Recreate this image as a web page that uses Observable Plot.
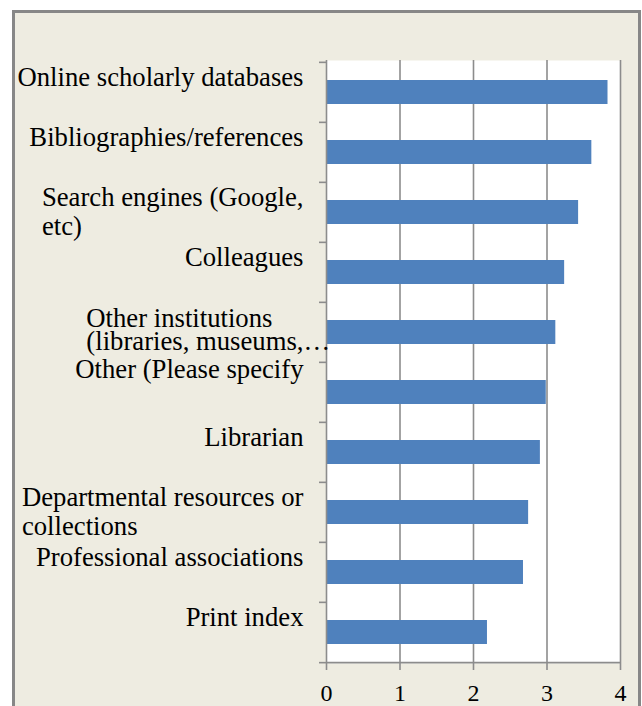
<!DOCTYPE html>
<html>
<head>
<meta charset="utf-8">
<script src="https://cdn.jsdelivr.net/npm/d3@7"></script>
<script src="https://cdn.jsdelivr.net/npm/@observablehq/plot@0.6"></script>
<style>
  html, body { margin: 0; padding: 0; background: #ffffff; }
  #wrap { position: relative; width: 642px; height: 706px; overflow: hidden; }
  #panel { position: absolute; left: 12px; top: 10px; width: 629px; height: 720px;
           box-sizing: border-box; border: 3px solid #878787; background: #EEECE1; }
  #chart { position: absolute; left: 0; top: 0; }
</style>
</head>
<body>
<div id="wrap">
  <div id="panel"></div>
  <div id="chart"></div>
</div>
<script>
// ---- data ----
const categories = [
  "Online scholarly databases",
  "Bibliographies/references",
  "Search engines (Google, etc)",
  "Colleagues",
  "Other institutions (libraries, museums, archives)",
  "Other (Please specify",
  "Librarian",
  "Departmental resources or collections",
  "Professional associations",
  "Print index"
];
const values = [3.83, 3.61, 3.43, 3.24, 3.12, 2.99, 2.91, 2.75, 2.68, 2.19];
const labelLines = [
  ["Online scholarly databases"],
  ["Bibliographies/references"],
  ["Search engines (Google,", "etc)"],
  ["Colleagues"],
  ["Other institutions", "(libraries, museums,…"],
  ["Other (Please specify"],
  ["Librarian"],
  ["Departmental resources or", "collections"],
  ["Professional associations"],
  ["Print index"]
];
const xTicks = [0, 1, 2, 3, 4];

// ---- layout ----
const W = 642, H = 706;
const mt = 60, mb = 43, ml = 326, mr = 22;
const step = (H - mt - mb) / categories.length;
const plotW = W - ml - mr;
const gray = "#8c8c8c";
const serif = "'Liberation Serif', 'Times New Roman', serif";
const labelSize = 26.7;
const tickFont = 24;
const labelGap = 23;

const data = categories.map((c, i) => ({category: c, value: values[i]}));

// measure label widths (trailing ellipsis overflows the label box)
const ctx = document.createElement("canvas").getContext("2d");
ctx.font = `${labelSize}px "Liberation Serif"`;
const textW = s => ctx.measureText(s.replace(/…$/, "")).width;

// per-label vertical tweaks (offset from slot top, line height)
const labelTweaks = {
  4: {top: 8.5, lineHeight: 0.86},
  5: {top: -5}
};

const labelMarks = categories.map((c, i) => {
  const lines = labelLines[i];
  const w = Math.max(...lines.map(textW));
  const t = labelTweaks[i] || {};
  const top = t.top ?? 2.5;
  return Plot.text([c], {
    x: () => 0,
    y: d => d,
    text: () => lines.join("\n"),
    textAnchor: "start",
    lineAnchor: "top",
    lineHeight: t.lineHeight ?? 1.1,
    dx: -(labelGap + w),
    dy: -step / 2 + top,
    fontSize: labelSize,
    fontFamily: serif,
    fill: "black"
  });
});

const chart = Plot.plot({
  width: W,
  height: H,
  marginTop: mt,
  marginBottom: mb,
  marginLeft: ml,
  marginRight: mr,
  style: {background: "transparent", overflow: "visible", fontFamily: serif},
  x: {domain: [0, 4], axis: null},
  y: {type: "band", domain: categories, paddingInner: 0.6, paddingOuter: 0.3, axis: null},
  marks: [
    Plot.frame({fill: "white", stroke: "none"}),
    Plot.gridX(xTicks.slice(1), {stroke: gray, strokeOpacity: 1, strokeWidth: 1.6}),
    Plot.barX(data, {x: "value", y: "category", fill: "#4F81BD"}),
    Plot.ruleX([0], {stroke: gray, strokeWidth: 1.6}),
    // category boundary ticks on the y axis
    Plot.tickY(categories, {y: d => d, dy: -step / 2, dx: -7, insetRight: plotW - 7, stroke: gray, strokeWidth: 1.6}),
    Plot.tickY(categories.slice(-1), {y: d => d, dy: step / 2, dx: -7, insetRight: plotW - 7, stroke: gray, strokeWidth: 1.6}),
    // bottom axis line
    Plot.ruleY(categories.slice(-1), {y: d => d, dy: step / 2, stroke: gray, strokeWidth: 1.6}),
    Plot.axisX({ticks: xTicks, tickSize: 7, tickPadding: 13, stroke: gray, strokeWidth: 1.6, label: null,
                fill: "black", fontSize: tickFont, fontFamily: serif, tickFormat: d => String(d)}),
    ...labelMarks
  ]
});
document.getElementById("chart").appendChild(chart);
</script>
</body>
</html>
